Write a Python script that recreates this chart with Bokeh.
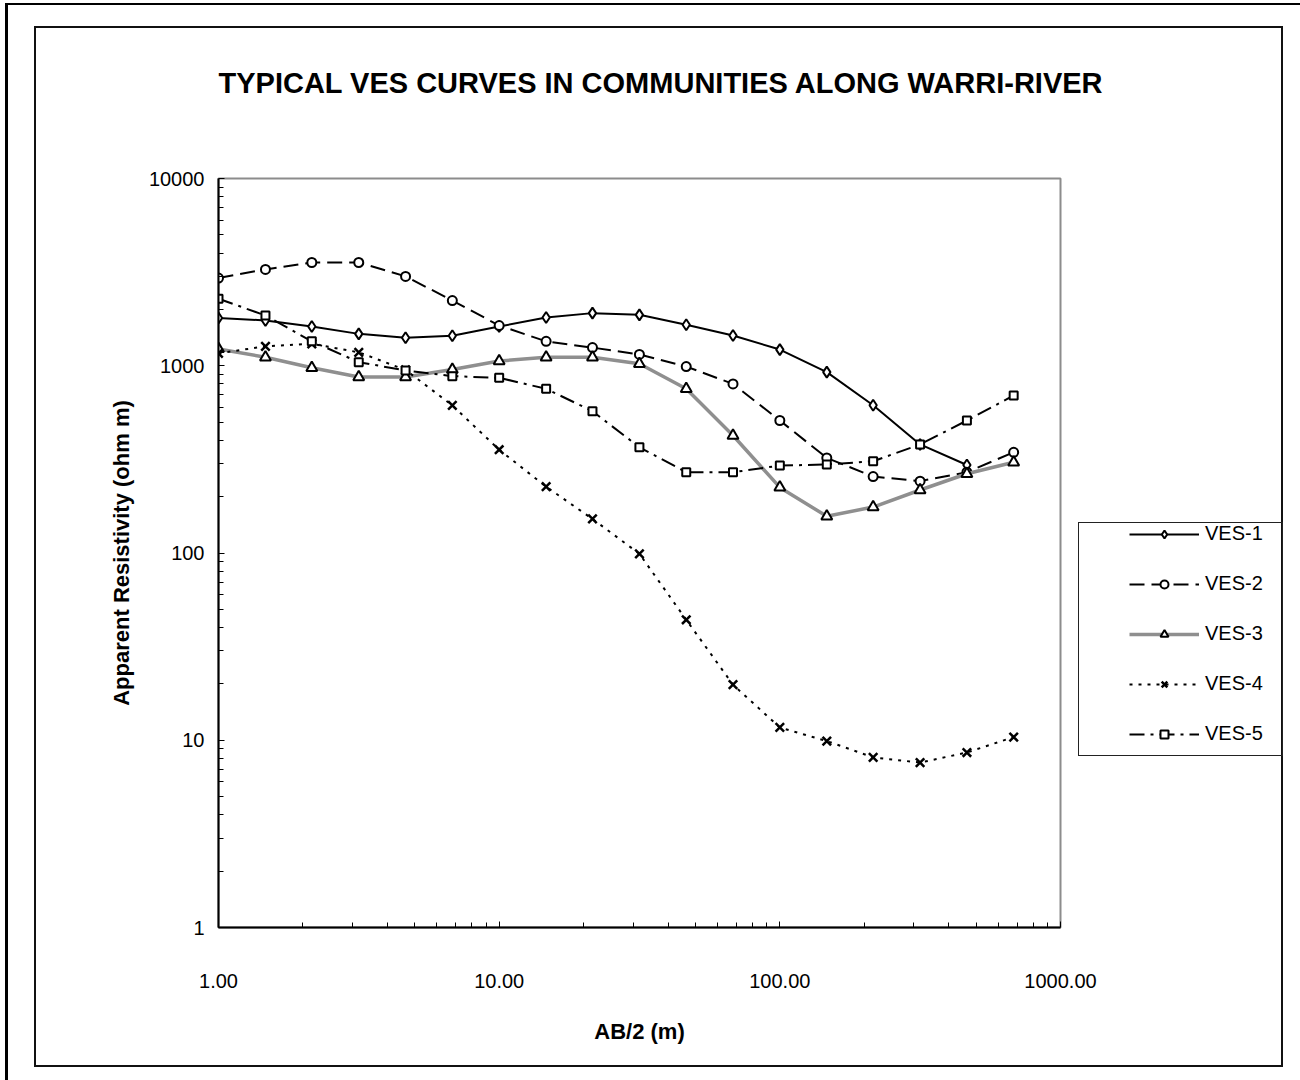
from bokeh.plotting import figure
from bokeh.layouts import row
from bokeh.models import (FixedTicker, PrintfTickFormatter, Legend, LegendItem,
                          InlineStyleSheet, Title)
from bokeh.embed import file_html
from bokeh.resources import INLINE

# ---- data ----
ab2 = [1.00, 1.47, 2.15, 3.16, 4.64, 6.81, 10.0, 14.7, 21.5, 31.6,
       46.4, 68.1, 100.0, 147.0, 215.0, 316.0, 464.0, 681.0]
ves1 = [1800, 1745, 1620, 1480, 1410, 1445, 1620, 1810, 1910, 1870,
        1655, 1450, 1220, 925, 615, 380, 295]
ves2 = [2940, 3270, 3560, 3560, 3000, 2230, 1640, 1350, 1250, 1150,
        990, 800, 510, 322, 256, 242, 270, 345]
ves3 = [1230, 1110, 975, 870, 870, 955, 1060, 1110, 1110, 1025,
        753, 424, 224, 157, 176, 217, 265, 305]
ves4 = [1165, 1270, 1310, 1180, 950, 614, 356, 226, 152, 99,
        44, 19.8, 11.7, 9.9, 8.1, 7.6, 8.6, 10.4]
ves5 = [2280, 1855, 1350, 1045, 944, 880, 862, 753, 572, 367,
        270, 270, 293, 297, 309, 380, 510, 694]
series_names = ["VES-1", "VES-2", "VES-3", "VES-4", "VES-5"]
x_ticks = [1, 10, 100, 1000]
y_ticks = [1, 10, 100, 1000, 10000]
title_text = "TYPICAL VES CURVES IN COMMUNITIES ALONG WARRI-RIVER"

FONT = "Liberation Sans"

p = figure(width=1110, height=1080, x_axis_type="log", y_axis_type="log",
           x_range=(1, 1000), y_range=(1, 10000),
           output_backend="svg", toolbar_location=None,
           min_border_left=218, min_border_right=50,
           min_border_top=178, min_border_bottom=153)
p.background_fill_color = "white"
p.border_fill_alpha = 0
p.outline_line_color = "#8c8c8c"
p.outline_line_width = 2
p.xgrid.visible = False
p.ygrid.visible = False
p.title.visible = False

# spacer (nearest the frame) then the title above it
p.add_layout(Title(text=" ", text_font_size="56px", text_font=FONT), "above")
p.add_layout(Title(text=title_text, align="left", offset=0,
                   text_font=FONT, text_font_style="bold",
                   text_font_size="29px", text_color="black"), "above")

def minor(decades):
    out = []
    for d in decades:
        out += [m * d for m in range(2, 10)]
    return out

p.xaxis.ticker = FixedTicker(ticks=x_ticks, minor_ticks=minor([1, 10, 100]))
p.yaxis.ticker = FixedTicker(ticks=y_ticks, minor_ticks=minor([1, 10, 100, 1000]))
p.xaxis.formatter = PrintfTickFormatter(format="%.2f")
p.yaxis.formatter = PrintfTickFormatter(format="%d")

for ax in (p.xaxis[0], p.yaxis[0]):
    ax.axis_line_color = "black"
    ax.axis_line_width = 2
    ax.major_tick_in = 6
    ax.major_tick_out = 0
    ax.minor_tick_in = 5
    ax.minor_tick_out = 0
    ax.major_tick_line_color = "black"
    ax.minor_tick_line_color = "black"
    ax.major_label_text_font = FONT
    ax.major_label_text_font_size = "20px"
    ax.major_label_text_color = "black"
    ax.axis_label_text_font = FONT
    ax.axis_label_text_font_style = "bold"
    ax.axis_label_text_font_size = "22px"
    ax.axis_label_text_color = "black"

p.xaxis.major_label_standoff = 46
p.xaxis.axis_label = "AB/2 (m)"
p.xaxis.axis_label_standoff = 28
p.yaxis.major_label_standoff = 14
p.yaxis.axis_label = "Apparent Resistivity (ohm m)"
p.yaxis.axis_label_standoff = 12

# ---- series ----
styles = [
    dict(ys=ves1, color="black", width=2, dash="solid", marker="diamond", size=11),
    dict(ys=ves2, color="black", width=2, dash="15 7", marker="circle", size=9),
    dict(ys=ves3, color="#8f8f8f", width=3.5, dash="solid", marker="triangle", size=11),
    dict(ys=ves4, color="black", width=2, dash="3 6", marker="x", size=12),
    dict(ys=ves5, color="black", width=2, dash="15 6 3 6", marker="square", size=8),
]

# legend lives in a narrow side figure; its renderers hold the same series
# but its ranges keep them out of view, so only the legend shows there
pl = figure(width=190, height=1080, x_range=(-2, -1), y_range=(-2, -1),
            output_backend="svg", toolbar_location=None,
            x_axis_location=None, y_axis_location=None, min_border=0)
pl.outline_line_color = None
pl.background_fill_alpha = 0
pl.border_fill_alpha = 0
pl.xgrid.visible = False
pl.ygrid.visible = False

items = []
for name, st in zip(series_names, styles):
    xs = ab2[:len(st["ys"])]
    for fig in (p, pl):
        ln = fig.line(xs, st["ys"], line_color=st["color"], line_width=st["width"],
                      line_dash=st["dash"])
        if st["marker"] == "x":
            mk = fig.scatter(xs, st["ys"], marker="x", size=st["size"],
                             line_color="black", line_width=2.5)
        else:
            mk = fig.scatter(xs, st["ys"], marker=st["marker"], size=st["size"],
                             fill_color="white", line_color="black", line_width=2)
    items.append(LegendItem(label=name, renderers=[ln, mk]))

legend = Legend(items=items, location=(7, 170), orientation="vertical")
legend.glyph_width = 70
legend.glyph_height = 20
legend.label_standoff = 6
legend.spacing = 27
legend.padding = 12
legend.margin = 0
legend.border_line_alpha = 0
legend.background_fill_alpha = 0
legend.label_text_font = FONT
legend.label_text_font_size = "20px"
legend.label_text_color = "black"
pl.add_layout(legend, "center")

layout = row(p, pl, spacing=0)
# decorative frames: outer page frame, chart-area box and legend box
layout.stylesheets = [InlineStyleSheet(css="""
:host { position: relative;
        box-shadow: inset 5px 3px 0 0 white, inset 8px 5px 0 0 black; }
:host::before { content: ""; position: absolute; left: 34px; top: 26px;
        width: 1249px; height: 1041px; border: 2px solid #111;
        box-sizing: border-box; pointer-events: none; z-index: 100; }
:host::after { content: ""; position: absolute; left: 1078px; top: 522px;
        width: 205px; height: 234px; border: 1.5px solid #222;
        box-sizing: border-box; pointer-events: none; z-index: 100; }
""")]

open("out.html", "w").write(file_html(layout, INLINE))
